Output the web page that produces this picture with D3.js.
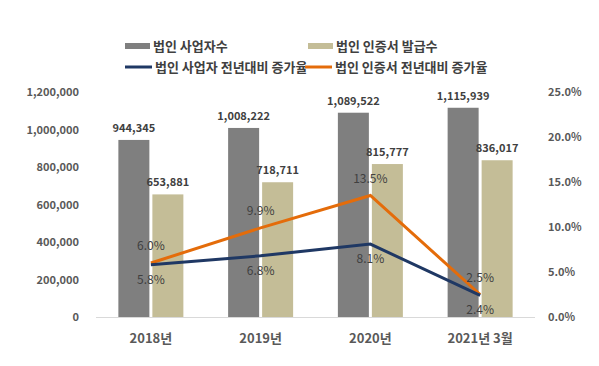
<!DOCTYPE html>
<meta charset="utf-8">
<style>
body{margin:0;background:white}
text{font-family:"Noto Sans CJK KR","Noto Sans",sans-serif}
.tick text{font-size:11px;font-weight:bold;fill:#595959}
</style>
<svg width="599" height="366"></svg>
<script src="https://d3js.org/d3.v7.min.js"></script>
<script>
var categories = ["2018년", "2019년", "2020년", "2021년 3월"];
var bizCount = [944345, 1008222, 1089522, 1115939];
var certCount = [653881, 718711, 815777, 836017];
var bizRate = [5.8, 6.8, 8.1, 2.4];
var certRate = [6.0, 9.9, 13.5, 2.5];
var leftTicks = [0, 200000, 400000, 600000, 800000, 1000000, 1200000];
var rightTicks = [0, 5, 10, 15, 20, 25];

var svg = d3.select("svg");
var x0 = 96, x1 = 535, yTop = 92, yBot = 317;

var x = d3.scaleBand().domain(categories).range([x0, x1]);
var y = d3.scaleLinear().domain([0, 1200000]).range([yBot, yTop]);
var y2 = d3.scaleLinear().domain([0, 25]).range([yBot, yTop]);
var barW = 31, gap = 3;

// axes (no lines, just labels)
var la = svg.append("g").attr("transform", "translate(" + (x0 - 10) + ",0)")
  .call(d3.axisLeft(y).tickValues(leftTicks).tickSize(0).tickPadding(7).tickFormat(d3.format(",")));
la.select(".domain").remove();
var ra = svg.append("g").attr("transform", "translate(" + (x1 + 6) + ",0)")
  .call(d3.axisRight(y2).tickValues(rightTicks).tickSize(0).tickPadding(7).tickFormat(function(d){ return d.toFixed(1) + "%"; }));
ra.select(".domain").remove();

// bars
var cx = function(d){ return x(d) + x.bandwidth() / 2; };
svg.append("g").selectAll("rect").data(categories).enter().append("rect")
  .attr("x", function(d){ return cx(d) - barW - gap / 2; })
  .attr("y", function(d, i){ return y(bizCount[i]); })
  .attr("width", barW)
  .attr("height", function(d, i){ return yBot - y(bizCount[i]); })
  .attr("fill", "#7f7f7f");
svg.append("g").selectAll("rect").data(categories).enter().append("rect")
  .attr("x", function(d){ return cx(d) + gap / 2; })
  .attr("y", function(d, i){ return y(certCount[i]); })
  .attr("width", barW)
  .attr("height", function(d, i){ return yBot - y(certCount[i]); })
  .attr("fill", "#c4bd97");

// baseline
svg.append("line").attr("x1", x0).attr("x2", x1).attr("y1", yBot + 0.5).attr("y2", yBot + 0.5)
  .attr("stroke", "#d9d9d9");

// bar value labels
var fmt = d3.format(",");
svg.append("g").selectAll("text").data(categories).enter().append("text")
  .attr("x", function(d){ return cx(d) - barW / 2 - gap / 2; })
  .attr("y", function(d, i){ return y(bizCount[i]) - 8; })
  .attr("text-anchor", "middle").attr("font-size", 11).attr("font-weight", "bold").attr("fill", "#404040")
  .text(function(d, i){ return fmt(bizCount[i]); });
svg.append("g").selectAll("text").data(categories).enter().append("text")
  .attr("x", function(d){ return cx(d) + barW / 2 + gap / 2; })
  .attr("y", function(d, i){ return y(certCount[i]) - 8; })
  .attr("text-anchor", "middle").attr("font-size", 11).attr("font-weight", "bold").attr("fill", "#404040")
  .text(function(d, i){ return fmt(certCount[i]); });

// lines
var line = d3.line().x(function(d, i){ return cx(categories[i]); }).y(function(d){ return y2(d); });
svg.append("path").datum(certRate).attr("d", line).attr("fill", "none")
  .attr("stroke", "#e46c0a").attr("stroke-width", 3);
svg.append("path").datum(bizRate).attr("d", line).attr("fill", "none")
  .attr("stroke", "#1f3864").attr("stroke-width", 3);

// line labels
svg.append("g").selectAll("text").data(certRate).enter().append("text")
  .attr("x", function(d, i){ return cx(categories[i]); })
  .attr("y", function(d){ return y2(d) - 13; })
  .attr("text-anchor", "middle").attr("font-size", 12).attr("fill", "#404040")
  .text(function(d){ return d.toFixed(1) + "%"; });
svg.append("g").selectAll("text").data(bizRate).enter().append("text")
  .attr("x", function(d, i){ return cx(categories[i]); })
  .attr("y", function(d){ return y2(d) + 19; })
  .attr("text-anchor", "middle").attr("font-size", 12).attr("fill", "#404040")
  .text(function(d){ return d.toFixed(1) + "%"; });

// category labels
svg.append("g").selectAll("text").data(categories).enter().append("text")
  .attr("x", function(d){ return cx(d); })
  .attr("y", 343)
  .attr("text-anchor", "middle").attr("font-size", 13).attr("font-weight", "bold").attr("fill", "#595959")
  .text(function(d){ return d; });

// legend
var legend = [
  {name: "법인 사업자수", color: "#7f7f7f", type: "rect", x: 125, y: 46},
  {name: "법인 인증서 발급수", color: "#c4bd97", type: "rect", x: 308, y: 46},
  {name: "법인 사업자 전년대비 증가율", color: "#1f3864", type: "line", x: 125, y: 67},
  {name: "법인 인증서 전년대비 증가율", color: "#e46c0a", type: "line", x: 305, y: 67}
];
var lg = svg.append("g").selectAll("g").data(legend).enter().append("g")
  .attr("transform", function(d){ return "translate(" + d.x + "," + d.y + ")"; });
lg.filter(function(d){ return d.type === "rect"; }).append("rect")
  .attr("x", 0).attr("y", -3).attr("width", 25).attr("height", 6).attr("fill", function(d){ return d.color; });
lg.filter(function(d){ return d.type === "line"; }).append("line")
  .attr("x1", 0).attr("x2", 27).attr("y1", 0).attr("y2", 0)
  .attr("stroke", function(d){ return d.color; }).attr("stroke-width", 3);
lg.append("text")
  .attr("x", function(d){ return d.type === "rect" ? 28 : 30; }).attr("y", 4.5)
  .attr("font-size", 13).attr("font-weight", "bold").attr("fill", "#404040")
  .text(function(d){ return d.name; });
</script>
